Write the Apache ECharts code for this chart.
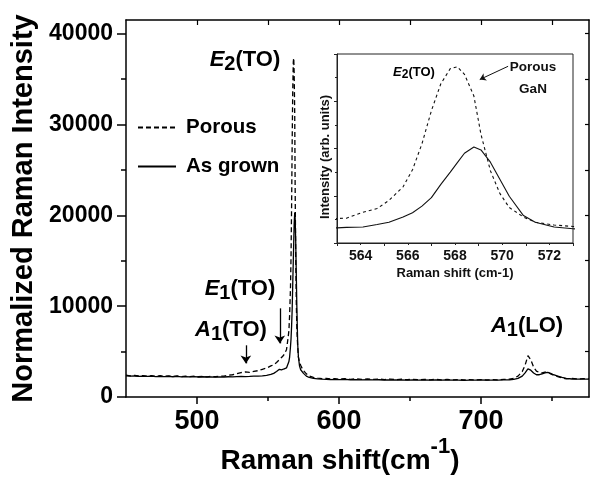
<!DOCTYPE html>
<html><head><meta charset="utf-8">
<script src="https://cdn.jsdelivr.net/npm/echarts@6/dist/echarts.min.js"></script>
<style>html,body{margin:0;padding:0;background:#fff}#c{width:597px;height:479px}</style>
</head><body><div id="c"></div>
<script>
// Raman shift (cm-1)
const ramanShift = [450,453,456,459,462,465,468,471,474,477,480,483,486,489,492,495,498,501,504,507,510,513,516,519,522,525,528,531,534,537,540,543,546,549,
552,554,556,558,559.5,561,562,
563,563.4,564.1,564.7,565.2,565.8,566.2,566.6,567,567.4,567.8,568.1,568.4,568.8,569.1,569.5,569.9,570.3,570.9,571.4,572.2,573,
574,575,577,579,582,585,588,591,594,597,600,
604,608,612,616,620,624,628,632,636,640,644,648,652,656,660,664,668,672,676,680,684,688,692,696,700,704,708,712,716,720,
723,726,729,731,733,735,737,739,741,743,745,747,749,751,754,757,760,764,768,772,776];
// Normalized Raman intensity, porous GaN (dashed)
const porous = [2400,2330,2380,2310,2360,2290,2350,2280,2340,2270,2330,2260,2310,2250,2300,2240,2290,2230,2280,2220,2270,2230,2290,2300,2390,2450,2560,2680,2760,2700,2820,2900,3050,3180,
3420,3550,3800,4100,4350,4600,4900,
5200,5250,6500,7300,9000,11900,15500,21000,28000,33700,36900,37300,35700,31100,23000,15300,10500,7500,5500,4400,3800,3500,
3150,2900,2550,2300,2150,2080,2020,2060,1980,2030,1960,
2010,1950,2000,1940,1990,1930,1980,1920,1970,1910,1960,1900,1950,1900,1940,1890,1940,1880,1930,1880,1920,1870,1920,1880,1920,1870,1910,1880,1930,1960,
2050,2300,2800,3500,4550,4100,3300,2850,2700,2650,2750,2700,2550,2400,2250,2100,2000,2050,1980,2020,2000];
// Normalized Raman intensity, as grown (solid)
const asGrown = [2330,2290,2310,2270,2300,2260,2290,2250,2280,2240,2270,2230,2260,2220,2250,2210,2240,2200,2230,2200,2220,2190,2220,2200,2230,2210,2240,2260,2250,2270,2300,2290,2330,2380,
2480,2600,2800,3050,2980,3080,3130,
3200,3300,3400,3900,4400,5500,6400,7800,9600,12400,15000,17000,19000,20300,19700,17100,13500,9900,5800,4400,3400,3000,
2800,2600,2300,2150,2050,1990,1960,1940,1920,1950,1910,
1930,1900,1920,1890,1910,1880,1900,1870,1890,1870,1880,1860,1880,1860,1870,1850,1870,1850,1870,1850,1860,1840,1860,1850,1870,1850,1860,1850,1880,1900,
1950,2050,2300,2650,3100,2950,2650,2450,2450,2550,2650,2700,2600,2450,2300,2150,2050,1980,1960,1970,1960];

const seriesNames = ['Porous', 'As grown'];
const mainXTicks = [500, 600, 700];
const mainXMinorTicks = [550, 650, 750];
const mainXTopTicks = [500, 550, 600, 650, 700, 750];
const mainYTicks = [0, 10000, 20000, 30000, 40000];
const mainYMinorTicks = [5000, 15000, 25000, 35000];
const mainYRightTicks = [5000, 10000, 15000, 20000, 25000, 30000, 35000, 40000];
const insetXTicks = [564, 566, 568, 570, 572];

const FONT = '"Liberation Sans", Arial, sans-serif';
const porousPts = ramanShift.map((x, i) => [x, porous[i]]);
const grownPts = ramanShift.map((x, i) => [x, asGrown[i]]);

function modeRich(F, S, pad) {
  return {
    i: {fontFamily: FONT, fontSize: F, fontWeight: 'bold', fontStyle: 'italic', lineHeight: F + 1, verticalAlign: 'top', fill: '#000'},
    n: {fontFamily: FONT, fontSize: F, fontWeight: 'bold', lineHeight: F + 1, verticalAlign: 'top', fill: '#000'},
    s: {fontFamily: FONT, fontSize: S, fontWeight: 'bold', lineHeight: S, padding: [pad, 0, 0, 0], verticalAlign: 'top', fill: '#000'}
  };
}
function modeLabel(letter, digit, rest, cx, capY, F, S, pad) {
  return {
    type: 'text', x: cx, y: capY - (F + 1) / 2, silent: true,
    style: {text: '{i|' + letter + '}{s|' + digit + '}{n|' + rest + '}', rich: modeRich(F, S, pad), align: 'center', verticalAlign: 'top'}
  };
}

const axisLineStyle = {color: '#000', width: 1.5};
const plain = v => String(v);
const chart = echarts.init(document.getElementById('c'), null, {renderer: 'canvas'});
chart.setOption({
  animation: false,
  backgroundColor: '#fff',
  grid: [
    {left: 126, right: 8, top: 20, bottom: 82},
    {left: 337, right: 24, top: 54, bottom: 236, show: true, borderColor: '#222', borderWidth: 1}
  ],
  legend: {
    data: seriesNames, orient: 'vertical', left: 137, top: 117, padding: 0,
    itemWidth: 38, itemHeight: 20, itemGap: 18, selectedMode: false,
    itemStyle: {opacity: 0},
    textStyle: {fontFamily: FONT, fontSize: 20.5, fontWeight: 'bold', color: '#000', padding: [0, 0, 0, 5]}
  },
  xAxis: [
    {gridIndex: 0, type: 'value', min: 450, max: 776, position: 'bottom',
     axisLine: {show: true, onZero: false, lineStyle: axisLineStyle},
     axisTick: {show: true, customValues: mainXTicks, length: 7, lineStyle: {color: '#000', width: 1.5}},
     axisLabel: {customValues: mainXTicks, formatter: plain, fontFamily: FONT, fontSize: 27, fontWeight: 'bold', color: '#000', margin: 11},
     splitLine: {show: false}},
    {gridIndex: 0, type: 'value', min: 450, max: 776, position: 'bottom',
     axisLine: {show: false, onZero: false},
     axisTick: {show: true, customValues: mainXMinorTicks, length: 4, lineStyle: {color: '#000', width: 1.5}},
     axisLabel: {show: false}, splitLine: {show: false}},
    {gridIndex: 0, type: 'value', min: 450, max: 776, position: 'top',
     axisLine: {show: true, onZero: false, lineStyle: axisLineStyle},
     axisTick: {show: true, inside: true, customValues: mainXTopTicks, length: 5, lineStyle: {color: '#000', width: 1.2}},
     axisLabel: {show: false}, splitLine: {show: false}},
    {gridIndex: 1, type: 'value', min: 563, max: 573, interval: 2,
     axisLine: {show: true, onZero: false, lineStyle: {color: '#222', width: 1}},
     axisTick: {show: true, length: 3, lineStyle: {color: '#222'}},
     minorTick: {show: true, splitNumber: 2, length: 2, lineStyle: {color: '#222'}},
     axisLabel: {fontFamily: FONT, fontSize: 14, fontWeight: 'bold', color: '#111', margin: 6,
                 customValues: insetXTicks, formatter: plain},
     splitLine: {show: false},
     name: 'Raman shift (cm-1)', nameLocation: 'middle', nameGap: 24,
     nameTextStyle: {fontFamily: FONT, fontSize: 13, fontWeight: 'bold', color: '#111'}}
  ],
  yAxis: [
    {gridIndex: 0, type: 'value', min: 0, max: 41500, position: 'left',
     axisLine: {show: true, onZero: false, lineStyle: axisLineStyle},
     axisTick: {show: true, customValues: mainYTicks, length: 9, lineStyle: {color: '#000', width: 1.5}},
     axisLabel: {customValues: mainYTicks, formatter: plain, fontFamily: FONT, fontSize: 23, fontWeight: 'bold', color: '#000', margin: 13},
     splitLine: {show: false},
     name: 'Normalized Raman Intensity', nameLocation: 'middle', nameGap: 78,
     nameTextStyle: {fontFamily: FONT, fontSize: 29, fontWeight: 'bold', color: '#000'}},
    {gridIndex: 0, type: 'value', min: 0, max: 41500, position: 'left',
     axisLine: {show: false, onZero: false},
     axisTick: {show: true, customValues: mainYMinorTicks, length: 5, lineStyle: {color: '#000', width: 1.5}},
     axisLabel: {show: false}, splitLine: {show: false}},
    {gridIndex: 0, type: 'value', min: 0, max: 41500, position: 'right',
     axisLine: {show: true, onZero: false, lineStyle: axisLineStyle},
     axisTick: {show: true, inside: true, customValues: mainYRightTicks, length: 4, lineStyle: {color: '#000', width: 1.2}},
     axisLabel: {show: false}, splitLine: {show: false}},
    {gridIndex: 1, type: 'value', min: 0, max: 40000, interval: 10000,
     axisLine: {show: true, onZero: false, lineStyle: {color: '#222', width: 1}},
     axisTick: {show: true, length: 3, lineStyle: {color: '#222'}},
     minorTick: {show: true, splitNumber: 2, length: 2, lineStyle: {color: '#222'}},
     axisLabel: {show: false}, splitLine: {show: false}}
  ],
  series: [
    {name: seriesNames[0], type: 'line', xAxisIndex: 0, yAxisIndex: 0, data: porousPts, symbol: 'none',
     lineStyle: {color: '#000', width: 1.3, type: [5, 3]}, itemStyle: {color: '#000'}},
    {name: seriesNames[1], type: 'line', xAxisIndex: 0, yAxisIndex: 0, data: grownPts, symbol: 'none',
     lineStyle: {color: '#000', width: 1.3}, itemStyle: {color: '#000'},
     markLine: {silent: true, symbol: ['none', 'arrow'], symbolSize: 8, label: {show: false},
       lineStyle: {color: '#000', width: 1.3, type: 'solid'},
       data: [
         [{coord: [558.3, 9760]}, {coord: [558.3, 5900]}],
         [{coord: [534.4, 5690]}, {coord: [534.4, 3700]}]
       ]}},
    {name: seriesNames[0], type: 'line', xAxisIndex: 3, yAxisIndex: 3, data: porousPts, symbol: 'none', clip: true,
     lineStyle: {color: '#111', width: 1.1, type: [3, 3]}, itemStyle: {color: '#000'},
     markLine: {silent: true, symbol: ['none', 'arrow'], symbolSize: 6, label: {show: false},
       lineStyle: {color: '#111', width: 1, type: 'solid'},
       data: [[{coord: [570.25, 37400]}, {coord: [569.05, 34600]}]]}},
    {name: seriesNames[1], type: 'line', xAxisIndex: 3, yAxisIndex: 3, data: grownPts, symbol: 'none', clip: true,
     lineStyle: {color: '#111', width: 1.1}, itemStyle: {color: '#000'}}
  ],
  graphic: [
    modeLabel('E', '2', '(TO)', 245, 60, 22, 20, 6),
    modeLabel('E', '1', '(TO)', 240, 289, 22, 20, 6),
    modeLabel('A', '1', '(TO)', 231, 330, 22, 20, 6),
    modeLabel('A', '1', '(LO)', 527, 326, 22, 20, 6),
    modeLabel('E', '2', '(TO)', 414, 73, 13, 12, 3),
    {type: 'text', x: 533, y: 67, silent: true,
     style: {text: 'Porous', font: 'bold 13.5px ' + FONT, fill: '#111', align: 'center', verticalAlign: 'middle'}},
    {type: 'text', x: 533, y: 89, silent: true,
     style: {text: 'GaN', font: 'bold 13.5px ' + FONT, fill: '#111', align: 'center', verticalAlign: 'middle'}},
    {type: 'text', x: 325, y: 157, rotation: Math.PI / 2, silent: true,
     style: {text: 'Intensity (arb. units)', font: 'bold 13px ' + FONT, fill: '#111', align: 'center', verticalAlign: 'middle'}},
    {type: 'text', x: 340, y: 436, silent: true,
     style: {text: '{n|Raman shift(cm}{p|-1}{n|)}', align: 'center', verticalAlign: 'top',
       rich: {
         n: {fontFamily: FONT, fontSize: 28, fontWeight: 'bold', lineHeight: 28, padding: [11, 0, 0, 0], verticalAlign: 'top', fill: '#000'},
         p: {fontFamily: FONT, fontSize: 22, fontWeight: 'bold', lineHeight: 22, verticalAlign: 'top', fill: '#000'}
       }}}
  ]
});
</script>
</body></html>
